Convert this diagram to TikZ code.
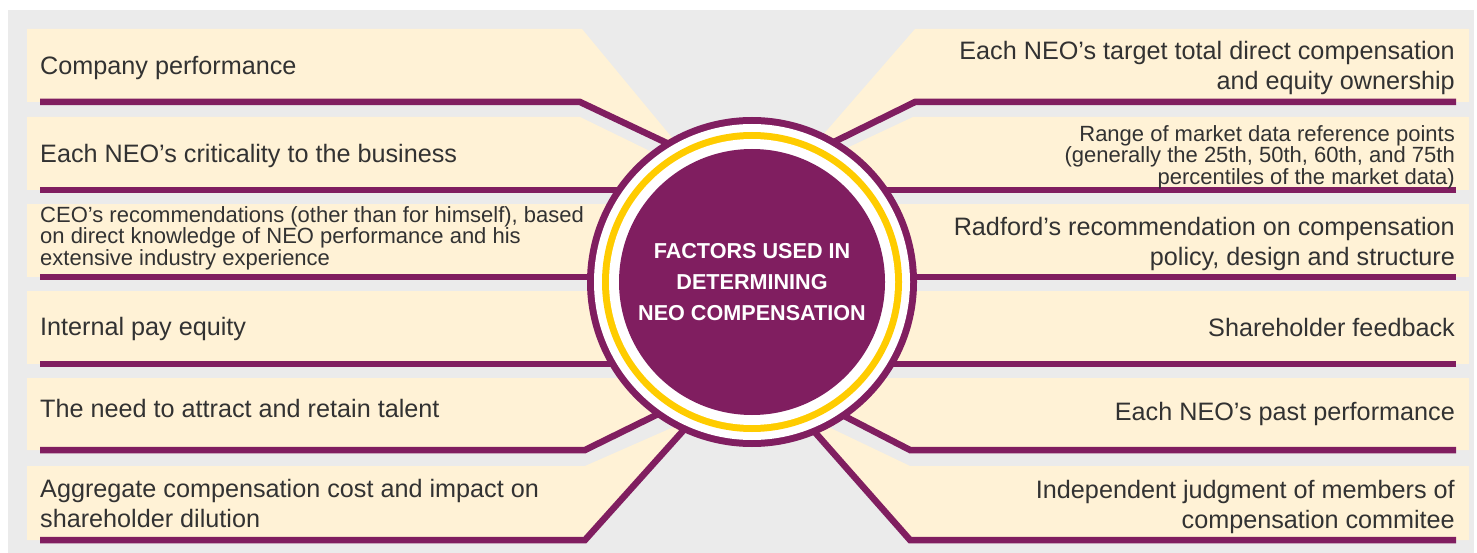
\documentclass[tikz,border=0pt]{standalone}
\usepackage{fontspec}
\setmainfont{Liberation Sans}
\usetikzlibrary{calc}
\pgfdeclarelayer{panel}
\pgfdeclarelayer{back}
\pgfsetlayers{panel,back,main}
\definecolor{plum}{RGB}{128,30,96}
\definecolor{cream}{RGB}{255,242,214}
\definecolor{panelgray}{RGB}{235,235,235}
\definecolor{gold}{RGB}{255,204,0}
\definecolor{ink}{RGB}{50,50,50}
\begin{document}
\begin{tikzpicture}[x=1pt,y=-1pt,
  band/.style={fill=cream},
  link/.style={draw=plum,line width=6.5pt},
  ltext/.style={anchor=west,align=left,text=ink,inner sep=0pt,font=\fontsize{25.2}{30}\selectfont},
  rtext/.style={anchor=east,align=right,text=ink,inner sep=0pt,font=\fontsize{25.2}{30}\selectfont},
  small/.style={font=\fontsize{22}{21.5}\selectfont},
  hubstyle/.style={circle,fill=plum,minimum size=330pt,inner sep=0pt,text=white,align=center,
    font=\fontsize{21.6}{31}\selectfont\bfseries}
]
\useasboundingbox (0,0) rectangle (1477,553);
\begin{pgfonlayer}{panel}
\fill[white] (0,0) rectangle (1477,553);
\fill[panelgray] (8,10) rectangle (1474,553);
\end{pgfonlayer}

% central hub
\node[hubstyle,path picture={
   \fill[white] (path picture bounding box.center) circle[radius=158pt];
   \fill[gold] (path picture bounding box.center) circle[radius=150pt];
   \fill[white] (path picture bounding box.center) circle[radius=143pt];
   \fill[plum] (path picture bounding box.center) circle[radius=133pt];
 }] (hub) at (752,282) {FACTORS USED IN\\DETERMINING\\NEO COMPENSATION};

% texts left
\node[ltext] (t1) at (40,67.5) {Company performance};
\node[ltext] (t2) at (40,155.5) {Each NEO’s criticality to the business};
\node[ltext,small] (t3) at (40,238.3) {CEO’s recommendations (other than for himself), based\\on direct knowledge of NEO performance and his\\extensive industry experience};
\node[ltext] (t4) at (40,328.5) {Internal pay equity};
\node[ltext] (t5) at (40,408.8) {The need to attract and retain talent};
\node[ltext] (t6) at (40,503.9) {Aggregate compensation cost and impact on\\shareholder dilution};
% texts right
\node[rtext] (r1) at (1455,67.5) {Each NEO’s target total direct compensation\\and equity ownership};
\node[rtext,small] (r2) at (1455,157.3) {Range of market data reference points\\(generally the 25th, 50th, 60th, and 75th\\percentiles of the market data)};
\node[rtext] (r3) at (1455,243.5) {Radford’s recommendation on compensation\\policy, design and structure};
\node[rtext] (r4) at (1455,327.8) {Shareholder feedback};
\node[rtext] (r5) at (1455,413.5) {Each NEO’s past performance};
\node[rtext] (r6) at (1455,506.5) {Independent judgment of members of\\compensation commitee};

% connector coordinates
\coordinate (la1) at (40,102);  \coordinate (lb1) at (580,102);
\coordinate (la2) at (40,190);
\coordinate (la3) at (40,277);
\coordinate (la4) at (40,364);
\coordinate (la5) at (40,450);  \coordinate (lb5) at (585,450);
\coordinate (la6) at (40,540);  \coordinate (lb6) at (585,540);
\coordinate (ra1) at (1456,102); \coordinate (rb1) at (915,102);
\coordinate (ra2) at (1456,190);
\coordinate (ra3) at (1456,277);
\coordinate (ra4) at (1456,364);
\coordinate (ra5) at (1456,450); \coordinate (rb5) at (910,450);
\coordinate (ra6) at (1456,540); \coordinate (rb6) at (910,540);

\begin{pgfonlayer}{back}
% cream bands, left
\fill[band] (27,29) -- (582,29) -- (688,157) -- (580,102) -- (27,102) -- cycle;
\fill[band] (27,117) -- (580,117) -- (700,175.5) -- (700,190) -- (27,190) -- cycle;
\fill[band] (27,204) rectangle (700,277);
\fill[band] (27,291) rectangle (700,364);
\fill[band] (27,378) -- (700,378) -- (700,399) -- (585,450) -- (27,450) -- cycle;
\fill[band] (27,466) -- (585,466) -- (701,415) -- (585,540) -- (27,540) -- cycle;
% cream bands, right
\fill[band] (1469,29) -- (915,29) -- (809,151) -- (915,102) -- (1469,102) -- cycle;
\fill[band] (1469,117) -- (913,117) -- (800,170) -- (800,190) -- (1469,190) -- cycle;
\fill[band] (800,204) rectangle (1469,277);
\fill[band] (800,291) rectangle (1469,364);
\fill[band] (1469,378) -- (800,378) -- (800,397) -- (910,450) -- (1469,450) -- cycle;
\fill[band] (1469,466) -- (910,466) -- (797,412) -- (910,540) -- (1469,540) -- cycle;
% connectors
\draw[link] (la1) -- (lb1) -- ($(lb1)!1.25!(hub.122.7)$);
\draw[link] (la2) -- (la2 -| hub.center);
\draw[link] (la3) -- (la3 -| hub.center);
\draw[link] (la4) -- (la4 -| hub.center);
\draw[link] (la5) -- (lb5) -- ($(lb5)!1.3!(hub.234.5)$);
\draw[link] (la6) -- (lb6) -- ($(lb6)!1.2!(hub.245.4)$);
\draw[link] (ra1) -- (rb1) -- ($(rb1)!1.25!(hub.59.2)$);
\draw[link] (ra2) -- (ra2 -| hub.center);
\draw[link] (ra3) -- (ra3 -| hub.center);
\draw[link] (ra4) -- (ra4 -| hub.center);
\draw[link] (ra5) -- (rb5) -- ($(rb5)!1.3!(hub.305.4)$);
\draw[link] (ra6) -- (rb6) -- ($(rb6)!1.2!(hub.293.3)$);
\end{pgfonlayer}
\end{tikzpicture}
\end{document}
